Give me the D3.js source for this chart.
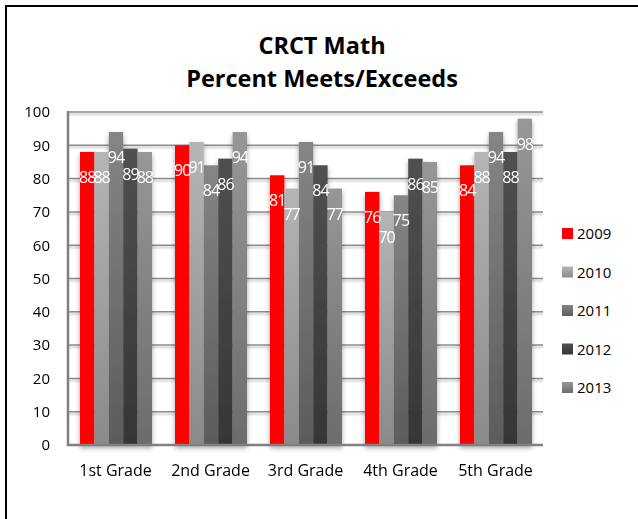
<!DOCTYPE html>
<html>
<head>
<meta charset="utf-8">
<script src="https://cdn.jsdelivr.net/npm/d3@7"></script>
<style>
    body { margin: 0; background: #fff; }
    svg text { font-family: "Open Sans", Lato, sans-serif; }
</style>
</head>
<body>
<div id="chart"></div>
<script>
// data
let grades = ['1st Grade', '2nd Grade', '3rd Grade', '4th Grade', '5th Grade'];
let years = ['2009', '2010', '2011', '2012', '2013'];
let scores2009 = [88, 90, 81, 76, 84];
let scores2010 = [88, 91, 77, 70, 88];
let scores2011 = [94, 84, 91, 75, 94];
let scores2012 = [89, 86, 84, 86, 88];
let scores2013 = [88, 94, 77, 85, 98];
let yTicks = [0, 10, 20, 30, 40, 50, 60, 70, 80, 90, 100];

let seriesValues = [scores2009, scores2010, scores2011, scores2012, scores2013];

// top / bottom colours of each series' fill
let seriesColors = [
    ['#ff0000', '#ff0000'],
    ['#b5b5b5', '#8a8a8a'],
    ['#858585', '#5c5c5c'],
    ['#505050', '#363636'],
    ['#979797', '#6c6c6c']
];

let width = 638, height = 519;
let plot = { left: 68, right: 543, top: 112, bottom: 445 };

let svg = d3.select('#chart').append('svg')
    .attr('width', width)
    .attr('height', height);

let defs = svg.append('defs');

seriesColors.forEach(function (c, i) {
    let g = defs.append('linearGradient')
        .attr('id', 'grad' + i)
        .attr('x1', 0).attr('y1', 0)
        .attr('x2', 0).attr('y2', 1);
    g.append('stop').attr('offset', '0%').attr('stop-color', c[0]);
    g.append('stop').attr('offset', '100%').attr('stop-color', c[1]);
});

let shadow = defs.append('filter')
    .attr('id', 'shadow')
    .attr('x', '-20%').attr('y', '-20%')
    .attr('width', '140%').attr('height', '140%');
shadow.append('feDropShadow')
    .attr('dx', 0).attr('dy', 3)
    .attr('stdDeviation', 2.5)
    .attr('flood-color', '#000')
    .attr('flood-opacity', 0.35);

let lineShadow = defs.append('filter')
    .attr('id', 'lineShadow')
    .attr('x', '-5%').attr('y', '-300%')
    .attr('width', '110%').attr('height', '700%');
lineShadow.append('feDropShadow')
    .attr('dx', 0).attr('dy', 2)
    .attr('stdDeviation', 1)
    .attr('flood-color', '#000')
    .attr('flood-opacity', 0.25);

// outer chart border (only top & left are inside the picture)
svg.append('path')
    .attr('d', 'M6,' + (height + 2) + ' V6 H' + (width + 2))
    .attr('fill', 'none')
    .attr('stroke', '#000')
    .attr('stroke-width', 2);

/** SCALES **/
let x0 = d3.scaleBand().domain(grades).range([plot.left, plot.right]);
let x1 = d3.scaleBand().domain(years).range([12, x0.bandwidth() - 11]);
let y = d3.scaleLinear().domain([0, 100]).range([plot.bottom, plot.top]);

/** GRIDLINES **/
svg.append('g')
    .attr('filter', 'url(#lineShadow)')
    .selectAll('line')
    .data(yTicks.filter(function (d) { return d > 0; }))
    .enter().append('line')
    .attr('x1', plot.left)
    .attr('x2', plot.right)
    .attr('y1', function (d) { return y(d); })
    .attr('y2', function (d) { return y(d); })
    .attr('stroke', '#8c8c8c')
    .attr('stroke-width', 1.5);

/** BARS **/
let groups = svg.append('g')
    .attr('filter', 'url(#shadow)')
    .selectAll('g')
    .data(grades)
    .enter().append('g')
    .attr('transform', function (d) { return 'translate(' + x0(d) + ',0)'; });

groups.selectAll('rect')
    .data(function (g, gi) {
        return years.map(function (yr, si) {
            return { year: yr, series: si, value: seriesValues[si][gi] };
        });
    })
    .enter().append('rect')
    .attr('x', function (d) { return x1(d.year); })
    .attr('y', function (d) { return y(d.value); })
    .attr('width', x1.bandwidth())
    .attr('height', function (d) { return y(0) - y(d.value); })
    .attr('fill', function (d) { return 'url(#grad' + d.series + ')'; });

// axis lines
svg.append('path')
    .attr('d', 'M' + plot.left + ',' + (plot.top - 1) + ' V' + plot.bottom + ' H' + plot.right)
    .attr('fill', 'none')
    .attr('stroke', '#808080')
    .attr('stroke-width', 2.5);

/** DATA LABELS **/
let labelLayer = svg.append('g');
grades.forEach(function (g, gi) {
    labelLayer.append('g')
        .attr('transform', 'translate(' + x0(g) + ',0)')
        .selectAll('text')
        .data(years.map(function (yr, si) { return { year: yr, value: seriesValues[si][gi] }; }))
        .enter().append('text')
        .attr('x', function (d) { return x1(d.year) + x1.bandwidth() / 2; })
        .attr('y', function (d) { return y(d.value) + 31; })
        .attr('text-anchor', 'middle')
        .attr('fill', '#fff')
        .attr('font-size', 16)
        .attr('letter-spacing', -1)
        .text(function (d) { return d.value; });
});

/** AXES **/
let yAxis = svg.append('g')
    .attr('transform', 'translate(' + plot.left + ',0)')
    .call(d3.axisLeft(y).tickValues(yTicks).tickSize(0).tickPadding(18));
yAxis.select('.domain').remove();
yAxis.selectAll('text')
    .attr('font-size', 15)
    .attr('fill', '#000')
    .style('font-family', '"Open Sans", sans-serif');

let xAxis = svg.append('g')
    .attr('transform', 'translate(0,' + plot.bottom + ')')
    .call(d3.axisBottom(x0).tickSize(0).tickPadding(20));
xAxis.select('.domain').remove();
xAxis.selectAll('text')
    .attr('font-size', 16)
    .attr('fill', '#000')
    .style('font-family', '"Open Sans", sans-serif');

/** TITLE **/
let title = svg.append('text')
    .attr('x', 322)
    .attr('text-anchor', 'middle')
    .attr('font-size', 23.5)
    .attr('font-weight', 'bold');
title.append('tspan').attr('x', 322).attr('y', 54).text('CRCT Math');
title.append('tspan').attr('x', 322).attr('y', 87).text('Percent Meets/Exceeds');

/** LEGEND **/
let legend = svg.append('g')
    .selectAll('g')
    .data(years)
    .enter().append('g')
    .attr('transform', function (d, i) { return 'translate(562,' + (228 + i * 38.5) + ')'; });

legend.append('rect')
    .attr('width', 11)
    .attr('height', 11)
    .attr('fill', function (d, i) { return 'url(#grad' + i + ')'; });

legend.append('text')
    .attr('x', 15)
    .attr('y', 11)
    .attr('font-size', 15)
    .text(function (d) { return d; });
</script>
</body>
</html>
